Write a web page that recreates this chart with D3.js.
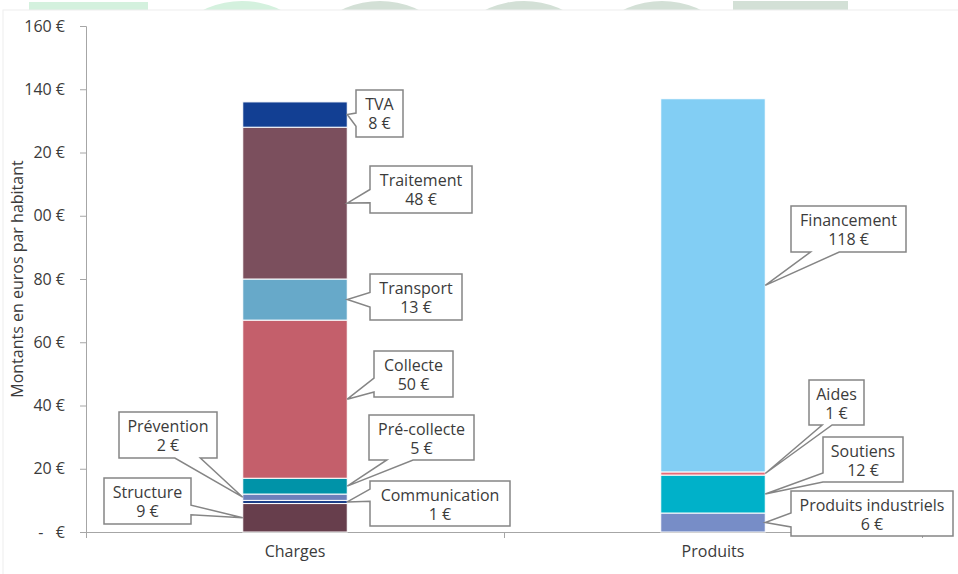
<!DOCTYPE html>
<html>
<head>
<meta charset="utf-8">
<script src="https://cdn.jsdelivr.net/npm/d3@7"></script>
<style>
  html, body { margin: 0; padding: 0; background: #ffffff; }
  svg { display: block; font-family: "Open Sans", "DejaVu Sans", sans-serif; }
  text { white-space: pre; }
</style>
</head>
<body>
<svg id="chart" width="958" height="574"></svg>
<script>
// ---------- DATA ----------
const categories = ["Charges", "Produits"];

const chargesLabels = ["Structure", "Communication", "Prévention", "Pré-collecte", "Collecte", "Transport", "Traitement", "TVA"];
const chargesValues = [9, 1, 2, 5, 50, 13, 48, 8];

const produitsLabels = ["Produits industriels", "Soutiens", "Aides", "Financement"];
const produitsValues = [6, 12, 1, 118];

const yTickValues = [0, 20, 40, 60, 80, 100, 120, 140, 160];
const yTickLabels = ["-   €", "20 €", "40 €", "60 €", "80 €", "00 €", "20 €", "140 €", "160 €"];

const yAxisTitle = "Montants en euros par habitant";

// ---------- STYLES ----------
const chargesColors = ["#673e4c", "#1d3f88", "#6d80bb", "#0093a8", "#c45f6b", "#67a9c9", "#7b4f5d", "#123f93"];
const produitsColors = ["#778dc7", "#00b1c9", "#e86a78", "#82cef4"];

// callout boxes layout (pixel boxes; wedge side and base fractions); tip side of bar
const calloutLayout = {
  "TVA":                  {x: 356, y: 90,  w: 47,  h: 47, side: "left",   f: [0.49, 0.77], edge: "right"},
  "Traitement":           {x: 370, y: 166, w: 102, h: 47, side: "left",   f: [0.50, 0.78], edge: "right"},
  "Transport":            {x: 370, y: 274, w: 92,  h: 46, side: "left",   f: [0.40, 0.72], edge: "right"},
  "Collecte":             {x: 374, y: 351, w: 79,  h: 46, side: "left",   f: [0.59, 0.89], edge: "right"},
  "Pré-collecte":         {x: 369, y: 415, w: 105, h: 45, side: "bottom", f: [0.17, 0.42], edge: "right"},
  "Communication":        {x: 370, y: 481, w: 140, h: 45, side: "left",   f: [0.18, 0.45], edge: "right"},
  "Prévention":           {x: 119, y: 412, w: 98,  h: 46, side: "bottom", f: [0.57, 0.83], edge: "left"},
  "Structure":            {x: 104, y: 478, w: 87,  h: 46, side: "right",  f: [0.59, 0.80], edge: "left"},
  "Financement":          {x: 791, y: 206, w: 115, h: 46, side: "bottom", f: [0.17, 0.42], edge: "right"},
  "Aides":                {x: 809, y: 380, w: 55,  h: 45, side: "bottom", f: [0.24, 0.42], edge: "right"},
  "Soutiens":             {x: 823, y: 437, w: 80,  h: 45, side: "left",   f: [0.80, 1.00], edge: "right"},
  "Produits industriels": {x: 791, y: 491, w: 162, h: 45, side: "left",   f: [0.49, 0.80], edge: "right"}
};

// ---------- SETUP ----------
const svg = d3.select("#chart");
const textColor = "#3b3b3b";
const axisColor = "#a6a6a6";

// decorative header shapes
const deco = svg.append("g");
deco.append("rect").attr("x", 29).attr("y", 2).attr("width", 119).attr("height", 20).attr("fill", "#d4f1de");
deco.append("rect").attr("x", 733).attr("y", 1).attr("width", 115).attr("height", 20).attr("fill", "#d3e0d6");
[[242, "#d4f1de"], [380, "#d3e0d6"], [524, "#d3e0d6"], [662, "#d3e0d6"]].forEach(([cx, c]) => {
  deco.append("circle").attr("cx", cx).attr("cy", 90).attr("r", 89).attr("fill", c);
});
svg.append("rect").attr("x", 3).attr("y", 10).attr("width", 962).attr("height", 570)
  .attr("fill", "#ffffff").attr("stroke", "#eeeeee");

const y = d3.scaleLinear().domain([0, 160]).range([532, 26]);
const x = d3.scaleBand().domain(categories).range([86, 922]).padding(0);
const bw = x.bandwidth();
const barW = bw * 0.25;
const barX = c => x(c) + (bw - barW) / 2;

// stacks
function stackOf(labels, values, colors) {
  let acc = 0;
  return labels.map((l, i) => {
    const s = {label: l, value: values[i], y0: acc, y1: acc + values[i], color: colors[i]};
    acc += values[i];
    return s;
  });
}
const stacks = {
  "Charges": stackOf(chargesLabels, chargesValues, chargesColors),
  "Produits": stackOf(produitsLabels, produitsValues, produitsColors)
};

// ---------- AXES ----------
const yAxis = d3.axisLeft(y).tickValues(yTickValues).tickSize(6).tickPadding(15)
  .tickFormat((d, i) => yTickLabels[i]);
const gy = svg.append("g").attr("transform", "translate(86,0)").call(yAxis);
gy.select(".domain").attr("stroke", axisColor);
gy.selectAll(".tick line").attr("stroke", axisColor);
gy.selectAll(".tick text").attr("fill", textColor).attr("font-size", 16)
  .attr("font-family", "'Open Sans', sans-serif");

// x axis line and boundary ticks
const gx = svg.append("g");
gx.append("line").attr("x1", x.range()[0]).attr("x2", x.range()[1])
  .attr("y1", y(0) + 0.5).attr("y2", y(0) + 0.5).attr("stroke", axisColor);
const bounds = categories.map(c => x(c)).concat([x.range()[1]]);
gx.selectAll("line.tk").data(bounds).join("line").attr("class", "tk")
  .attr("x1", d => d + 0.5).attr("x2", d => d + 0.5)
  .attr("y1", y(0)).attr("y2", y(0) + 6).attr("stroke", axisColor);
gx.selectAll("text.cat").data(categories).join("text").attr("class", "cat")
  .attr("x", d => x(d) + bw / 2).attr("y", 557)
  .attr("text-anchor", "middle").attr("font-size", 16).attr("fill", textColor)
  .text(d => d);

// y axis title
svg.append("text")
  .attr("transform", `translate(23,${(y(0) + y(160)) / 2}) rotate(-90)`)
  .attr("text-anchor", "middle").attr("font-size", 16).attr("fill", textColor)
  .text(yAxisTitle);

// ---------- BARS ----------
categories.forEach(c => {
  svg.append("g").selectAll("rect").data(stacks[c]).join("rect")
    .attr("x", barX(c)).attr("width", barW)
    .attr("y", d => y(d.y1)).attr("height", d => y(d.y0) - y(d.y1))
    .attr("fill", d => d.color)
    .attr("stroke", "#ffffff").attr("stroke-width", 1);
});

// ---------- CALLOUTS ----------
function calloutPath(L, tx, ty) {
  const {x: bx, y: by, w, h, side, f} = L;
  const pts = [];
  pts.push([bx, by]);
  if (side === "top") pts.push([bx + f[0] * w, by], [tx, ty], [bx + f[1] * w, by]);
  pts.push([bx + w, by]);
  if (side === "right") pts.push([bx + w, by + f[0] * h], [tx, ty], [bx + w, by + f[1] * h]);
  pts.push([bx + w, by + h]);
  if (side === "bottom") pts.push([bx + f[1] * w, by + h], [tx, ty], [bx + f[0] * w, by + h]);
  pts.push([bx, by + h]);
  if (side === "left") pts.push([bx, by + f[1] * h], [tx, ty], [bx, by + f[0] * h]);
  return "M" + pts.map(p => p.join(",")).join("L") + "Z";
}

const gl = svg.append("g");
categories.forEach(c => {
  stacks[c].forEach(s => {
    const L = calloutLayout[s.label];
    if (!L) return;
    const tx = L.edge === "right" ? barX(c) + barW : barX(c);
    const ty = y((s.y0 + s.y1) / 2);
    const g = gl.append("g");
    g.append("path").attr("d", calloutPath(L, tx, ty))
      .attr("fill", "#ffffff").attr("stroke", "#858585").attr("stroke-width", 1.5)
      .attr("stroke-linejoin", "miter");
    const t = g.append("text").attr("text-anchor", "middle").attr("font-size", 16).attr("fill", textColor);
    t.append("tspan").attr("x", L.x + L.w / 2).attr("y", L.y + 20).text(s.label);
    t.append("tspan").attr("x", L.x + L.w / 2).attr("y", L.y + 39).text(`${s.value} €`);
  });
});
</script>
</body>
</html>
